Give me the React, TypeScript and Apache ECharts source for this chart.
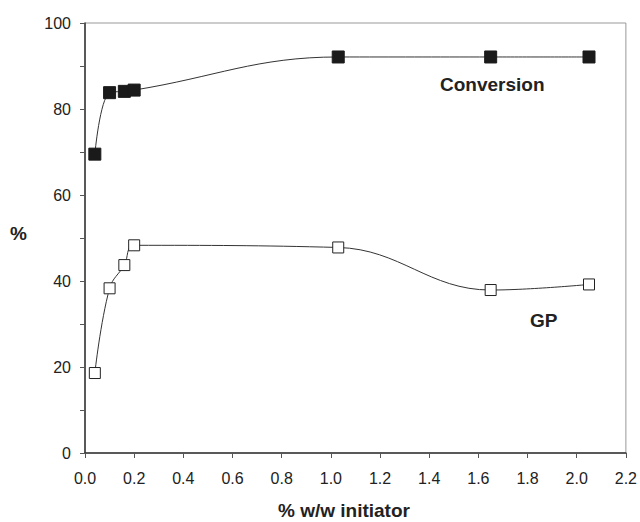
import React, { useEffect, useRef } from "react";
import * as echarts from "echarts";

const initiator = [0.04, 0.1, 0.16, 0.2, 1.03, 1.65, 2.05];
const conversion = [69.5, 83.8, 84.1, 84.4, 92.1, 92.1, 92.1];
const gp = [18.6, 38.3, 43.7, 48.3, 47.8, 37.9, 39.2];
const xTicks = [0, 0.2, 0.4, 0.6, 0.8, 1.0, 1.2, 1.4, 1.6, 1.8, 2.0, 2.2];

const FONT = "'Liberation Sans', Arial, sans-serif";

export default function App() {
  const ref = useRef<HTMLDivElement>(null);
  useEffect(() => {
    const chart = echarts.init(ref.current!, null, { renderer: "svg" });
    chart.setOption({
      animation: false,
      backgroundColor: "#fff",
      grid: {
        left: 85,
        right: 13,
        top: 23,
        bottom: 69,
        show: true,
        borderColor: "#999",
        borderWidth: 1,
      },
      xAxis: {
        type: "value",
        min: xTicks[0],
        max: xTicks[xTicks.length - 1],
        interval: 0.2,
        splitLine: { show: false },
        axisLine: { show: true, lineStyle: { color: "#333", width: 1.5 } },
        axisTick: { show: true, inside: false, length: 5, lineStyle: { color: "#555" } },
        axisLabel: {
          margin: 17,
          fontSize: 16,
          color: "#222",
          fontFamily: FONT,
          showMaxLabel: true,
          showMinLabel: true,
          formatter: (v: number) => v.toFixed(1),
        },
      },
      yAxis: {
        type: "value",
        min: 0,
        max: 100,
        interval: 10,
        splitLine: { show: false },
        axisLine: { show: true, lineStyle: { color: "#333", width: 1.5 } },
        axisTick: { show: true, inside: false, length: 5, lineStyle: { color: "#555" } },
        axisLabel: {
          margin: 14,
          fontSize: 16,
          color: "#222",
          fontFamily: FONT,
          formatter: (v: number) => (v % 20 === 0 ? String(v) : ""),
        },
      },
      series: [
        {
          name: "Conversion",
          type: "line",
          smooth: 0.4,
          data: initiator.map((x, i) => [x, conversion[i]]),
          symbol: "rect",
          symbolSize: 12,
          itemStyle: { color: "#1a1a1a", borderColor: "#1a1a1a" },
          lineStyle: { color: "#333", width: 1 },
        },
        {
          name: "GP",
          type: "line",
          smooth: 0.4,
          data: initiator.map((x, i) => [x, gp[i]]),
          symbol: "rect",
          symbolSize: 11,
          showAllSymbol: true,
          itemStyle: { color: "#fff", borderColor: "#222", borderWidth: 1 },
          lineStyle: { color: "#333", width: 1 },
          z: 3,
        },
      ],
      graphic: [
        {
          type: "text",
          left: 440,
          top: 75,
          style: { text: "Conversion", font: `bold 19px ${FONT}`, fill: "#222" },
        },
        {
          type: "text",
          left: 530,
          top: 311,
          style: { text: "GP", font: `bold 19px ${FONT}`, fill: "#222" },
        },
        {
          type: "text",
          left: 10,
          top: 224,
          style: { text: "%", font: `bold 19px ${FONT}`, fill: "#222" },
        },
        {
          type: "text",
          left: 278,
          top: 501,
          style: { text: "% w/w initiator", font: `bold 19px ${FONT}`, fill: "#222" },
        },
      ],
    });
    return () => chart.dispose();
  }, []);
  return (
    <div
      ref={ref}
      style={{ position: "fixed", left: 0, top: 0, width: 640, height: 522 }}
    />
  );
}
